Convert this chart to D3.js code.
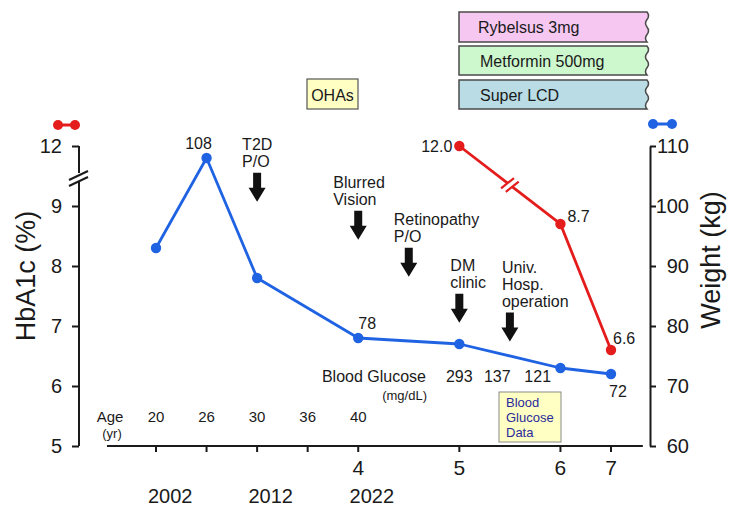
<!DOCTYPE html>
<html>
<head>
<meta charset="utf-8">
<script src="https://cdn.jsdelivr.net/npm/d3@7"></script>
<style>
  html, body { margin: 0; padding: 0; background: #fff; }
  svg { display: block; font-family: "Liberation Sans", Arial, sans-serif; }
</style>
</head>
<body>
<svg id="chart" width="737" height="508"></svg>
<script>
// ---------------- DATA ----------------
const weightPos = [0, 1, 2, 4, 6, 8, 9];
const weightKg = [93, 108, 88, 78, 77, 73, 72];
const weightLabels = [null, "108", null, "78", null, null, "72"];

const hba1cPos = [6, 8, 9];
const hba1cVals = [12.0, 8.7, 6.6];
const hba1cLabels = ["12.0", "8.7", "6.6"];

const leftTicks = [5, 6, 7, 8, 9, 12];
const rightTicks = [60, 70, 80, 90, 100, 110];

const xTickPos = [0, 1, 2, 3, 4, 6, 8, 9];
const ageLabels = ["20", "26", "30", "36", "40"];
const agePos = [0, 1, 2, 3, 4];
const visitLabels = ["4", "5", "6", "7"];
const visitPos = [4, 6, 8, 9];
const yearLabels = ["2002", "2012", "2022"];
const yearPos = [0.28, 2.27, 4.27];

const glucoseLabels = ["293", "137", "121"];
const glucosePos = [6.0, 6.75, 7.55];

const eventLabels = [["T2D", "P/O"], ["Blurred", "Vision"], ["Retinopathy", "P/O"], ["DM", "clinic"], ["Univ.", "Hosp.", "operation"]];
const eventPos = [2, 4, 5, 6, 7];

const drugLabels = ["Rybelsus 3mg", "Metformin 500mg", "Super LCD"];
const drugColors = ["#f6c8f1", "#cdf7cd", "#b9dce5"];

// ---------------- SCALES ----------------
const svg = d3.select("#chart");
const x = d3.scaleLinear().domain([0, 9]).range([156, 611]);
const yL = d3.scaleLinear().domain([5, 9, 12]).range([446, 206, 146]);
const yR = d3.scaleLinear().domain([60, 110]).range([446, 146]);

const BLUE = "#1f63e3";
const RED = "#e41c1c";
const INK = "#1a1a1a";

// ---------------- LEFT AXIS ----------------
const axL = svg.append("g").attr("transform", "translate(79,0)")
  .call(d3.axisLeft(yL).tickValues(leftTicks).tickSize(7).tickPadding(10).tickFormat(d3.format("d")));
axL.select(".domain").remove();
axL.selectAll("line").attr("stroke", INK).attr("stroke-width", 2);
axL.selectAll("text").attr("font-size", 20).attr("fill", INK).attr("font-family", "Liberation Sans, Arial");
// broken axis line
axL.append("line").attr("x1", 0).attr("x2", 0).attr("y1", yL(12)).attr("y2", 173).attr("stroke", INK).attr("stroke-width", 2);
axL.append("line").attr("x1", 0).attr("x2", 0).attr("y1", 181).attr("y2", yL(5)).attr("stroke", INK).attr("stroke-width", 2);
[[-10, 180, 9, 171], [-10, 186, 9, 177]].forEach(s =>
  axL.append("line").attr("x1", s[0]).attr("y1", s[1]).attr("x2", s[2]).attr("y2", s[3]).attr("stroke", INK).attr("stroke-width", 2));

// ---------------- RIGHT AXIS ----------------
const axR = svg.append("g").attr("transform", "translate(650,0)")
  .call(d3.axisRight(yR).tickValues(rightTicks).tickSize(6).tickSizeOuter(0));
axR.select(".domain").attr("stroke", INK).attr("stroke-width", 2);
axR.selectAll("line").attr("stroke", INK).attr("stroke-width", 2);
axR.selectAll("text").attr("font-size", 20).attr("fill", INK).attr("font-family", "Liberation Sans, Arial")
  .attr("text-anchor", "end").attr("x", 39);

// ---------------- BOTTOM AXIS ----------------
svg.append("line").attr("x1", x(-0.97)).attr("x2", x(9.63)).attr("y1", 446).attr("y2", 446)
  .attr("stroke", INK).attr("stroke-width", 2);
svg.selectAll(".xt").data(xTickPos).enter().append("line")
  .attr("x1", d => x(d)).attr("x2", d => x(d)).attr("y1", 446).attr("y2", 452)
  .attr("stroke", INK).attr("stroke-width", 2);
svg.selectAll(".vl").data(visitLabels).enter().append("text")
  .attr("x", (d, i) => x(visitPos[i])).attr("y", 475).attr("text-anchor", "middle")
  .attr("font-size", 21).attr("fill", INK).text(d => d);
svg.selectAll(".yl").data(yearLabels).enter().append("text")
  .attr("x", (d, i) => x(yearPos[i])).attr("y", 503).attr("text-anchor", "middle")
  .attr("font-size", 20).attr("fill", INK).text(d => d);

// Age row
svg.append("text").attr("x", 110).attr("y", 422).attr("text-anchor", "middle").attr("font-size", 15).attr("fill", INK).text("Age");
svg.append("text").attr("x", 112).attr("y", 438).attr("text-anchor", "middle").attr("font-size", 13).attr("fill", INK).text("(yr)");
svg.selectAll(".age").data(ageLabels).enter().append("text")
  .attr("x", (d, i) => x(agePos[i])).attr("y", 422).attr("text-anchor", "middle")
  .attr("font-size", 15).attr("fill", INK).text(d => d);

// Axis titles
svg.append("text").attr("transform", "translate(35,276) rotate(-90)").attr("text-anchor", "middle")
  .attr("font-size", 27).attr("fill", INK).text("HbA1c (%)");
svg.append("text").attr("transform", "translate(720,260) rotate(-90)").attr("text-anchor", "middle")
  .attr("font-size", 27).attr("fill", INK).text("Weight (kg)");

// Legend dumbbells
function dumbbell(x1, x2, y, c) {
  svg.append("line").attr("x1", x1).attr("x2", x2).attr("y1", y).attr("y2", y).attr("stroke", c).attr("stroke-width", 3);
  [x1, x2].forEach(xx => svg.append("circle").attr("cx", xx).attr("cy", y).attr("r", 5).attr("fill", c));
}
dumbbell(58, 75, 125, RED);
dumbbell(653, 672, 124, BLUE);

// ---------------- DRUG BOXES ----------------
function jaggedBox(x0, y0, x1, y1, fill) {
  const n = 4, h = (y1 - y0) / n;
  let p = `M${x0},${y0} L${x1},${y0}`;
  for (let k = 0; k < n; k++) {
    const ya = y0 + k * h, yb = ya + h;
    p += ` Q${x1 + (k % 2 ? -3 : 3)},${(ya + yb) / 2} ${x1},${yb}`;
  }
  p += ` L${x0},${y1} Z`;
  svg.append("path").attr("d", p).attr("fill", fill).attr("stroke", "#4a4a4a").attr("stroke-width", 1.5);
}
const boxY = [[12, 42], [46, 75], [80, 109]];
drugLabels.forEach((lab, i) => {
  jaggedBox(459, boxY[i][0], 647, boxY[i][1], drugColors[i]);
  svg.append("text").attr("x", i === 0 ? 478 : 480).attr("y", boxY[i][0] + 21)
    .attr("font-size", 16).attr("fill", INK).text(lab);
});

// OHAs box
svg.append("rect").attr("x", 307).attr("y", 79).attr("width", 51).attr("height", 30)
  .attr("fill", "#ffffc4").attr("stroke", "#555").attr("stroke-width", 1.2);
svg.append("text").attr("x", 332.5).attr("y", 101).attr("text-anchor", "middle").attr("font-size", 16).attr("fill", INK).text("OHAs");

// ---------------- EVENTS (arrows) ----------------
const evTextDx = [-15, -25, -15, -9, -8];
const evFirstBase = [150, 188, 225, 271, 273];
eventLabels.forEach((lines, i) => {
  const cx = x(eventPos[i]);
  lines.forEach((ln, j) => {
    svg.append("text").attr("x", cx + evTextDx[i]).attr("y", evFirstBase[i] + j * 16.8)
      .attr("font-size", 16).attr("fill", INK).text(ln);
  });
  const top = evFirstBase[i] + (lines.length - 1) * 16.8 + 6;
  const p = `M${cx - 4},${top} L${cx + 4},${top} L${cx + 4},${top + 15} L${cx + 8.5},${top + 15} L${cx},${top + 29} L${cx - 8.5},${top + 15} L${cx - 4},${top + 15} Z`;
  svg.append("path").attr("d", p).attr("fill", "#111");
});

// ---------------- WEIGHT LINE ----------------
const wData = weightPos.map((p, i) => ({ p, v: weightKg[i], l: weightLabels[i] }));
svg.append("path").datum(wData)
  .attr("d", d3.line().x(d => x(d.p)).y(d => yR(d.v)))
  .attr("fill", "none").attr("stroke", BLUE).attr("stroke-width", 2.8).attr("stroke-linejoin", "round");
svg.selectAll(".wd").data(wData).enter().append("circle")
  .attr("cx", d => x(d.p)).attr("cy", d => yR(d.v)).attr("r", 5.2).attr("fill", BLUE);
// labels
svg.append("text").attr("x", x(1) - 8).attr("y", yR(108) - 9).attr("text-anchor", "middle").attr("font-size", 16).attr("fill", INK).text(weightLabels[1]);
svg.append("text").attr("x", x(4) + 9).attr("y", yR(78) - 9).attr("text-anchor", "middle").attr("font-size", 16).attr("fill", INK).text(weightLabels[3]);
svg.append("text").attr("x", x(9) + 7).attr("y", yR(72) + 23).attr("text-anchor", "middle").attr("font-size", 16).attr("fill", INK).text(weightLabels[6]);

// ---------------- HbA1c LINE ----------------
const hData = hba1cPos.map((p, i) => ({ p, v: hba1cVals[i] }));
svg.append("path").datum(hData)
  .attr("d", d3.line().x(d => x(d.p)).y(d => yL(d.v)))
  .attr("fill", "none").attr("stroke", RED).attr("stroke-width", 2.8);
// break mark on first segment
{
  const ax = x(hData[0].p), ay = yL(hData[0].v), bx = x(hData[1].p), by = yL(hData[1].v);
  const mx = (ax + bx) / 2, my = (ay + by) / 2;
  const len = Math.hypot(bx - ax, by - ay), ux = (bx - ax) / len, uy = (by - ay) / len;
  const nx = -uy, ny = ux;
  svg.append("line").attr("x1", mx - ux * 3).attr("y1", my - uy * 3).attr("x2", mx + ux * 3).attr("y2", my + uy * 3)
    .attr("stroke", "#fff").attr("stroke-width", 5);
  [-3, 3].forEach(o => {
    const cx = mx + ux * o, cy = my + uy * o;
    svg.append("line").attr("x1", cx - nx * 8 + ux * 2).attr("y1", cy - ny * 8 + uy * 2)
      .attr("x2", cx + nx * 8 - ux * 2).attr("y2", cy + ny * 8 - uy * 2)
      .attr("stroke", RED).attr("stroke-width", 2.2);
  });
}
svg.selectAll(".hd").data(hData).enter().append("circle")
  .attr("cx", d => x(d.p)).attr("cy", d => yL(d.v)).attr("r", 5.2).attr("fill", RED);
svg.append("text").attr("x", x(6) - 7).attr("y", yL(12) + 6).attr("text-anchor", "end").attr("font-size", 16).attr("fill", INK).text(hba1cLabels[0]);
svg.append("text").attr("x", x(8) + 7).attr("y", yL(8.7) - 2).attr("font-size", 16).attr("fill", INK).text(hba1cLabels[1]);
svg.append("text").attr("x", x(9) + 2).attr("y", yL(6.6) - 6).attr("font-size", 16).attr("fill", INK).text(hba1cLabels[2]);

// ---------------- BLOOD GLUCOSE ----------------
svg.append("text").attr("x", 426).attr("y", 382).attr("text-anchor", "end").attr("font-size", 16).attr("fill", INK).text("Blood Glucose");
svg.append("text").attr("x", 427).attr("y", 400).attr("text-anchor", "end").attr("font-size", 13).attr("fill", INK).text("(mg/dL)");
svg.selectAll(".gl").data(glucoseLabels).enter().append("text")
  .attr("x", (d, i) => x(glucosePos[i])).attr("y", 382).attr("text-anchor", "middle")
  .attr("font-size", 16).attr("fill", INK).text(d => d);

svg.append("rect").attr("x", 499).attr("y", 392).attr("width", 62).attr("height", 50)
  .attr("fill", "#ffffc4").attr("stroke", "#8a8a8a").attr("stroke-width", 1);
["Blood", "Glucose", "Data"].forEach((t, i) =>
  svg.append("text").attr("x", 506).attr("y", 407 + i * 15).attr("font-size", 13).attr("fill", "#2a2a9c").text(t));
</script>
</body>
</html>
